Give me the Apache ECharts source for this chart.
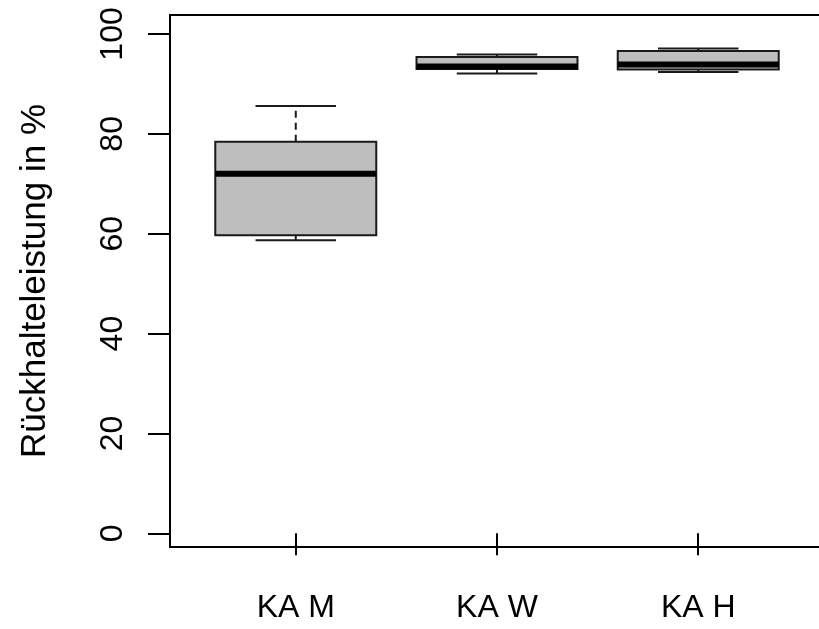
<!DOCTYPE html>
<html>
<head>
<meta charset="utf-8">
<script src="https://cdn.jsdelivr.net/npm/echarts@6/dist/echarts.min.js"></script>
<style>
html,body{margin:0;padding:0;background:#fff;}
#chart{width:819px;height:629px;}
</style>
</head>
<body>
<div id="chart"></div>
<script>
// Data
var categories = ['KA M', 'KA W', 'KA H'];
var whiskerLow = [58.7, 92.1, 92.4];
var q1 = [59.7, 93.0, 92.9];
var median = [72.0, 93.5, 93.9];
var q3 = [78.4, 95.4, 96.6];
var whiskerHigh = [85.6, 95.9, 97.1];
var yTicks = [0, 20, 40, 60, 80, 100];
var yTitle = 'Rückhalteleistung in %';

var positions = categories.map(function (c, i) { return i + 1; });
var seriesData = categories.map(function (c, i) {
  return [positions[i], whiskerLow[i], q1[i], median[i], q3[i], whiskerHigh[i]];
});

var chart = echarts.init(document.getElementById('chart'), null, {renderer: 'canvas'});

function renderItem(params, api) {
  var x = api.value(0);
  var lo = api.coord([x, api.value(1)]);
  var b1 = api.coord([x, api.value(2)]);
  var md = api.coord([x, api.value(3)]);
  var b3 = api.coord([x, api.value(4)]);
  var hi = api.coord([x, api.value(5)]);
  var boxW = api.size([0.8, 0])[0];
  var capW = api.size([0.4, 0])[0];
  var cx = lo[0];
  var stroke = '#1a1a1a';
  var dash = {stroke: stroke, lineWidth: 2, lineDash: [7, 5]};
  var solid = {stroke: stroke, lineWidth: 2};
  return {
    type: 'group',
    children: [
      {type: 'line', shape: {x1: cx, y1: b3[1], x2: cx, y2: hi[1]}, style: dash},
      {type: 'line', shape: {x1: cx, y1: b1[1], x2: cx, y2: lo[1]}, style: dash},
      {type: 'line', shape: {x1: cx - capW / 2, y1: hi[1], x2: cx + capW / 2, y2: hi[1]}, style: solid},
      {type: 'line', shape: {x1: cx - capW / 2, y1: lo[1], x2: cx + capW / 2, y2: lo[1]}, style: solid},
      {type: 'rect', shape: {x: cx - boxW / 2, y: b3[1], width: boxW, height: b1[1] - b3[1]},
        style: {fill: '#bebebe', stroke: stroke, lineWidth: 2}},
      {type: 'line', shape: {x1: cx - boxW / 2, y1: md[1], x2: cx + boxW / 2, y2: md[1]},
        style: {stroke: '#000', lineWidth: 6}}
    ]
  };
}

var option = {
  animation: false,
  backgroundColor: '#fff',
  grid: {
    left: 170, top: 15, width: 653, height: 532,
    outerBoundsMode: 'none',
    containLabel: false,
    show: true, borderColor: '#000', borderWidth: 2, backgroundColor: 'transparent'
  },
  xAxis: {
    type: 'value',
    min: 0.375, max: 3.62,
    axisLine: {show: false},
    splitLine: {show: false},
    axisTick: {show: true, customValues: positions, length: 22, lineStyle: {color: '#000', width: 2}},
    axisLabel: {
      customValues: positions, margin: 45, fontSize: 32, color: '#000',
      fontFamily: 'Liberation Sans, Arial, sans-serif',
      formatter: function (v) { return categories[Math.round(v) - 1] || ''; }
    }
  },
  yAxis: {
    type: 'value',
    min: -2.74, max: 103.8,
    name: yTitle,
    nameLocation: 'middle',
    nameRotate: 90,
    nameGap: 117,
    nameTextStyle: {fontSize: 35, color: '#000', fontFamily: 'Liberation Sans, Arial, sans-serif'},
    axisLine: {show: false},
    splitLine: {show: false},
    axisTick: {show: true, customValues: yTicks, length: 22, lineStyle: {color: '#000', width: 2}},
    axisLabel: {
      customValues: yTicks, rotate: 90, margin: 41, fontSize: 32, color: '#000',
      fontFamily: 'Liberation Sans, Arial, sans-serif'
    }
  },
  series: [{
    type: 'custom',
    renderItem: renderItem,
    encode: {x: 0, y: [1, 2, 3, 4, 5]},
    data: seriesData
  }]
};
chart.setOption(option);
</script>
</body>
</html>
